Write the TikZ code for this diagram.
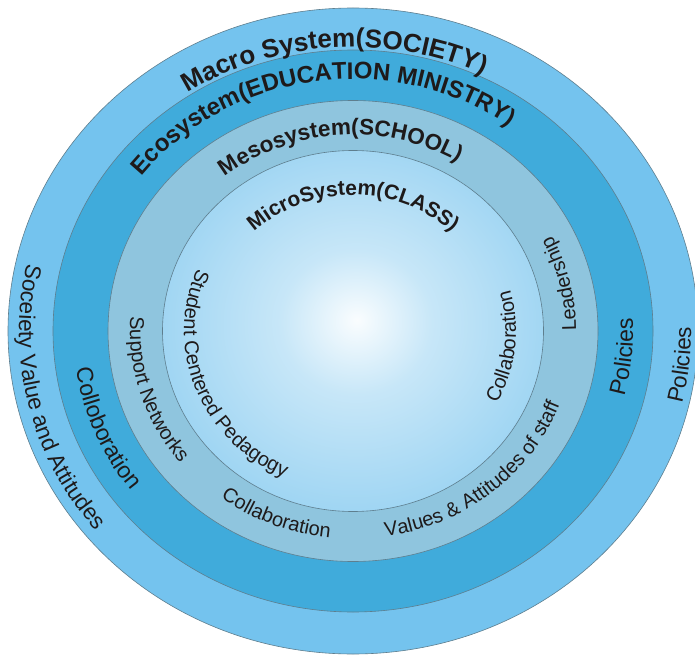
\documentclass[tikz,border=0pt]{standalone}
\usepackage{fontspec}
\setmainfont{Liberation Sans}
\usetikzlibrary{decorations.text}
\definecolor{outerc}{HTML}{74C3EE}
\definecolor{ecoc}{HTML}{40ABDB}
\definecolor{mesoc}{HTML}{8FC5DE}
\definecolor{innerc}{HTML}{7AC5EE}
\definecolor{edgec}{HTML}{5E7E8E}
\definecolor{txtc}{HTML}{1E1A1A}
\pgfdeclareradialshading{innershade}{\pgfpoint{0.5bp}{1.5bp}}{color(0bp)=(white!96!innerc); color(10bp)=(white!58!innerc); color(30bp)=(white!20!innerc); color(50bp)=(innerc)}
\newcommand\macrofont{\bfseries\fontsize{26}{30}\selectfont}
\newcommand\ecofont{\bfseries\fontsize{24}{28}\selectfont}
\newcommand\mesofont{\bfseries\fontsize{22.5}{27}\selectfont}
\newcommand\microfont{\bfseries\fontsize{21}{25}\selectfont}
\newcommand\outerlab{\fontsize{22.5}{26}\selectfont}
\newcommand\ecolab{\fontsize{23}{27}\selectfont}
\newcommand\labfont{\fontsize{20}{24}\selectfont}
\begin{document}
\begin{tikzpicture}[x=1pt,y=1pt,
  ring/.style={draw=edgec, line width=0.6pt},
  curved/.style={decorate, decoration={text along path, text align=center, text color=txtc, text={#1}}}]
\fill[white] (0,0) rectangle (695,657);
\useasboundingbox (0,0) rectangle (695,657);
\coordinate (C) at (353,326);
% rings
\path[ring, fill=outerc] (C) ellipse [x radius=345pt, y radius=323pt];
\path[ring, fill=ecoc] (C) ellipse [x radius=300pt, y radius=281pt];
\path[ring, fill=mesoc] (C) ellipse [x radius=245pt, y radius=230.5pt];
\shade[shading=innershade] (C) ellipse [x radius=190.5pt, y radius=180.5pt];
\path[ring] (C) ellipse [x radius=190.5pt, y radius=180.5pt];
% titles (clockwise, along the top)
\path[curved={|\macrofont|Macro System(SOCIETY)}] (C) ++(174:303pt and 284pt) arc[start angle=174, end angle=14, x radius=303pt, y radius=284pt];
\path[curved={|\ecofont|Ecosystem(EDUCATION MINISTRY)}] (C) ++(188:268pt and 252pt) arc[start angle=188, end angle=9, x radius=268pt, y radius=252pt];
\path[curved={|\mesofont|Mesosystem(SCHOOL)}] (C) ++(174:208pt and 196pt) arc[start angle=174, end angle=14, x radius=208pt, y radius=196pt];
\path[curved={|\microfont|MicroSystem(CLASS)}] (C) ++(170:144pt and 136pt) arc[start angle=170, end angle=10, x radius=144pt, y radius=136pt];
% left side (counter-clockwise, downwards)
\path[curved={|\outerlab|Soceiety Value and Attitudes}] (C) ++(113:334pt and 313pt) arc[start angle=113, end angle=273, x radius=334pt, y radius=313pt];
\path[curved={|\ecolab|Colloboration}] (C) ++(142:280pt and 262pt) arc[start angle=142, end angle=262, x radius=280pt, y radius=262pt];
\path[curved={|\labfont|Support Networks}] (C) ++(137:223pt and 209pt) arc[start angle=137, end angle=257, x radius=223pt, y radius=209pt];
\path[curved={|\labfont|Student Centered Pedagogy}] (C) ++(111:169pt and 160pt) arc[start angle=111, end angle=291, x radius=169pt, y radius=160pt];
% bottom
\path[curved={|\labfont|Collaboration}] (C) ++(198:221pt and 208pt) arc[start angle=198, end angle=298, x radius=221pt, y radius=208pt];
\path[curved={|\labfont|Values {\&} Attitudes of staff}] (C) ++(240:221pt and 208pt) arc[start angle=240, end angle=380, x radius=221pt, y radius=208pt];
% right side (counter-clockwise, upwards)
\path[curved={|\labfont|Collaboration}] (C) ++(-66:163pt and 154pt) arc[start angle=-66, end angle=54, x radius=163pt, y radius=154pt];
\path[curved={|\labfont|Leadership}] (C) ++(-47:223pt and 210pt) arc[start angle=-47, end angle=73, x radius=223pt, y radius=210pt];
\path[curved={|\ecolab|Policies}] (C) ++(-65:280pt and 262pt) arc[start angle=-65, end angle=54, x radius=280pt, y radius=262pt];
\path[curved={|\outerlab|Policies}] (C) ++(-66:338pt and 318pt) arc[start angle=-66, end angle=54, x radius=338pt, y radius=318pt];
\end{tikzpicture}
\end{document}
